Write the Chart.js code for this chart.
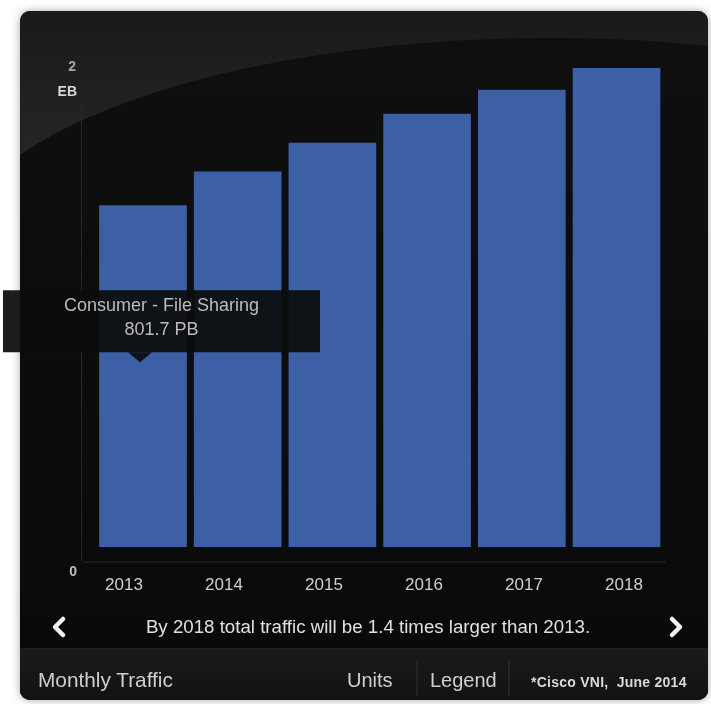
<!DOCTYPE html>
<html><head><meta charset="utf-8">
<script src="https://cdn.jsdelivr.net/npm/chart.js@4.4.1/dist/chart.umd.min.js"></script>
<style>
html,body{margin:0;padding:0;background:#fff;}
#wrap{position:relative;width:711px;height:704px;overflow:hidden;font-family:"Liberation Sans",Arial,sans-serif;}
canvas{position:absolute;left:0;top:0;}
.t{position:absolute;white-space:nowrap;line-height:1;}
svg{position:absolute;left:0;top:0;}
</style></head><body>
<div id="wrap">
<canvas id="c" width="711" height="704"></canvas>
<svg width="711" height="704">
  <polyline points="63,619 55,627 63,635" fill="none" stroke="#f2f2f2" stroke-width="4.5" stroke-linecap="round" stroke-linejoin="round"/>
  <polyline points="672,619 680,627 672,635" fill="none" stroke="#f2f2f2" stroke-width="4.5" stroke-linecap="round" stroke-linejoin="round"/>
  <line x1="417" y1="660" x2="417" y2="696" stroke="#2a2a2a" stroke-width="1.5"/>
  <line x1="509" y1="660" x2="509" y2="696" stroke="#2a2a2a" stroke-width="1.5"/>
</svg>
<div class="t" id="msg" style="left:0;width:736px;text-align:center;top:618px;font-size:18.7px;color:#e0e0e0;">By 2018 total traffic will be 1.4 times larger than 2013.</div>
<div class="t" style="left:38px;top:670px;font-size:20.8px;color:#cfcfcf;">Monthly Traffic</div>
<div class="t" style="left:347px;top:670px;font-size:20px;color:#cfcfcf;">Units</div>
<div class="t" style="left:430px;top:670px;font-size:20px;color:#cfcfcf;">Legend</div>
<div class="t" style="left:531px;top:675px;font-size:14px;font-weight:bold;letter-spacing:0.25px;color:#d8d8d8;">*Cisco VNI,&nbsp; June 2014</div>
</div>
<script>
const years = ['2013','2014','2015','2016','2017','2018'];
const totalTrafficEB = [1.42, 1.56, 1.68, 1.80, 1.90, 1.99];
const yTickValues = [0, 2];
const yTickLabels = [['0'], ['2','EB']];
const tooltipTitle = 'Consumer - File Sharing';
const tooltipValuePB = 801.7;
const tooltipIndex = 0;

const FONT = '"Liberation Sans", Arial, sans-serif';

const bgPlugin = {
  id:'bg',
  beforeDraw(chart){
    const ctx = chart.ctx;
    ctx.save();
    ctx.fillStyle = '#ffffff';
    ctx.fillRect(0,0,chart.width,chart.height);
    ctx.shadowColor = 'rgba(0,0,0,0.35)';
    ctx.shadowBlur = 8;
    ctx.fillStyle = '#0e0e0e';
    ctx.beginPath(); ctx.roundRect(20,11,688,689,10); ctx.fill();
    ctx.shadowColor = 'transparent';
    ctx.beginPath(); ctx.roundRect(20,11,688,689,10); ctx.clip();
    let g = ctx.createLinearGradient(0,11,0,200);
    g.addColorStop(0,'#1a1a1a'); g.addColorStop(1,'#282828');
    ctx.fillStyle = g; ctx.fillRect(20,11,688,300);
    ctx.beginPath();
    ctx.ellipse(550,258,600,220,0,Math.PI,2*Math.PI);
    ctx.lineTo(1150,800); ctx.lineTo(-50,800); ctx.closePath();
    g = ctx.createLinearGradient(0,40,0,640);
    g.addColorStop(0,'#0f0f0f'); g.addColorStop(1,'#0a0a0a');
    ctx.fillStyle = g; ctx.fill();
    g = ctx.createLinearGradient(0,648,0,700);
    g.addColorStop(0,'#1b1b1b'); g.addColorStop(1,'#121212');
    ctx.fillStyle = g; ctx.fillRect(20,648,688,52);
    ctx.fillStyle = '#202020'; ctx.fillRect(20,648,688,1);
    ctx.restore();
  },
  beforeDatasetsDraw(chart){
    const ctx = chart.ctx, ys = chart.scales.y, a = chart.chartArea;
    ctx.save();
    ctx.strokeStyle = '#262626'; ctx.lineWidth = 1;
    ctx.beginPath(); ctx.moveTo(81.5, ys.getPixelForValue(1.85)); ctx.lineTo(81.5, ys.getPixelForValue(0)+14); ctx.stroke();
    ctx.strokeStyle = '#1e1616'; ctx.lineWidth = 2;
    ctx.beginPath(); ctx.moveTo(82, ys.getPixelForValue(0)+15); ctx.lineTo(a.right-8, ys.getPixelForValue(0)+15); ctx.stroke();
    ctx.restore();
  },
  afterDraw(chart){
    const ctx = chart.ctx, ys = chart.scales.y;
    ctx.save();
    ctx.textAlign = 'right'; ctx.textBaseline = 'middle';
    ctx.font = 'bold 14px ' + FONT;
    yTickValues.forEach((v,i)=>{
      const p = ys.getPixelForValue(v);
      const lines = yTickLabels[i];
      if (lines.length === 1) { ctx.fillStyle = '#bdbdbd'; ctx.fillText(lines[0], 77, p + 25); }
      else { ctx.fillStyle = '#a8a8a8'; ctx.fillText(lines[0], 76, p + 1); ctx.fillStyle = '#d6d6d6'; ctx.fillText(lines[1], 77, p + 26); }
    });
    const bar = chart.getDatasetMeta(0).data[tooltipIndex];
    const tipX = bar.x - 3;
    const tipY = ys.getPixelForValue(tooltipValuePB/1000) + 8;
    const w = 317, h = 62;
    const left = tipX - 137, top = tipY - 10 - h;
    ctx.fillStyle = 'rgba(12,12,12,0.93)';
    ctx.beginPath(); ctx.rect(left, top, w, h); ctx.fill();
    ctx.beginPath();
    ctx.moveTo(tipX-12, top+h); ctx.lineTo(tipX, tipY); ctx.lineTo(tipX+12, top+h); ctx.closePath(); ctx.fill();
    ctx.textAlign = 'center'; ctx.textBaseline = 'middle';
    ctx.font = '18px ' + FONT; ctx.fillStyle = '#bcbcbc';
    const cx = left + w/2;
    ctx.fillText(tooltipTitle, cx, top + 16);
    ctx.fillText(tooltipValuePB.toFixed(1) + ' PB', cx, top + 40);
    ctx.restore();
  }
};

new Chart(document.getElementById('c'), {
  type:'bar',
  data:{
    datasets:[{
      data: totalTrafficEB.map((v,i)=>({x:i, y:v})),
      backgroundColor:'rgb(61,95,166)',
      borderWidth:0,
      barThickness:87,
      xAxisID:'x', yAxisID:'y'
    }]
  },
  options:{
    responsive:false, animation:false, devicePixelRatio:1, events:[],
    layout:{padding:{left:74,right:37,top:66,bottom:107}},
    plugins:{legend:{display:false}, tooltip:{enabled:false}},
    scales:{
      x:{type:'linear', display:false, offset:false, grid:{offset:false}, min:-0.7286, max:5.607},
      xl:{type:'category', labels:years, position:'bottom', offset:true,
          grid:{display:false, drawTicks:false, tickLength:0}, border:{display:false},
          ticks:{color:'#cfcfcf', font:{size:17, family:FONT}, padding:28, maxRotation:0, autoSkip:false},
          afterFit(s){ s.height = 50; }},
      y:{display:false, min:0, max:2}
    }
  },
  plugins:[bgPlugin]
});
</script>
</body></html>
